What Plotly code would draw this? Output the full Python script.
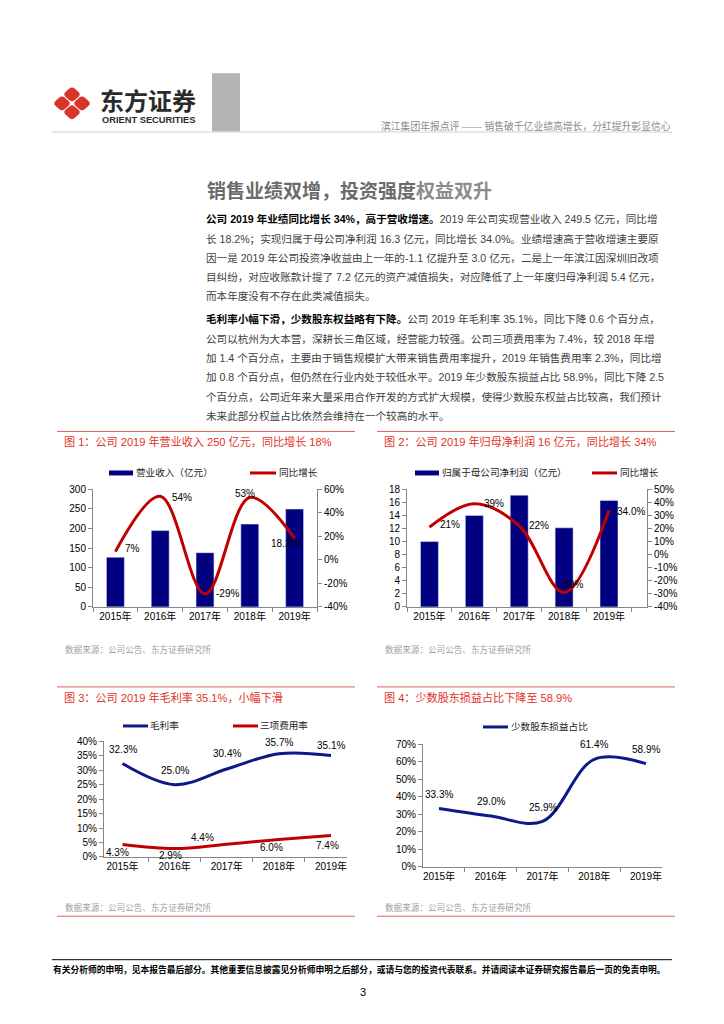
import plotly.graph_objects as go

# ---------------- data ----------------
years = ["2015年", "2016年", "2017年", "2018年", "2019年"]

revenue = [126.6, 194.6, 138.3, 211.1, 249.5]
revenue_growth = [0.07, 0.54, -0.29, 0.53, 0.182]
revenue_growth_labels = ["7%", "54%", "-29%", "53%", "18.2%"]

net_profit = [10.0, 14.0, 17.1, 12.1, 16.3]
profit_growth = [0.21, 0.39, 0.22, -0.29, 0.34]
profit_growth_labels = ["21%", "39%", "22%", "-29%", "34.0%"]

gross_margin = [0.323, 0.250, 0.304, 0.357, 0.351]
gross_margin_labels = ["32.3%", "25.0%", "30.4%", "35.7%", "35.1%"]
expense_ratio = [0.043, 0.029, 0.044, 0.060, 0.074]
expense_ratio_labels = ["4.3%", "2.9%", "4.4%", "6.0%", "7.4%"]

minority_share = [0.333, 0.290, 0.259, 0.614, 0.589]
minority_share_labels = ["33.3%", "29.0%", "25.9%", "61.4%", "58.9%"]

rev_ticks = [0, 50, 100, 150, 200, 250, 300]
rev_growth_ticks = [-0.4, -0.2, 0.0, 0.2, 0.4, 0.6]
rev_growth_ticktext = ["-40%", "-20%", "0%", "20%", "40%", "60%"]
profit_ticks = [0, 2, 4, 6, 8, 10, 12, 14, 16, 18]
profit_growth_ticks = [-0.4, -0.3, -0.2, -0.1, 0.0, 0.1, 0.2, 0.3, 0.4, 0.5]
profit_growth_ticktext = ["-40%", "-30%", "-20%", "-10%", "0%", "10%", "20%", "30%", "40%", "50%"]
margin_ticks = [0, 0.05, 0.10, 0.15, 0.20, 0.25, 0.30, 0.35, 0.40]
margin_ticktext = ["0%", "5%", "10%", "15%", "20%", "25%", "30%", "35%", "40%"]
minority_ticks = [0, 0.1, 0.2, 0.3, 0.4, 0.5, 0.6, 0.7]
minority_ticktext = ["0%", "10%", "20%", "30%", "40%", "50%", "60%", "70%"]

# ---------------- text ----------------
header_text = "滨江集团年报点评 —— 销售破千亿业绩高增长，分红提升彰显信心"
section_title_a = "销售业绩双增，投资强度"
section_title_b = "权益双升"
para1 = [
    "<b>公司 2019 年业绩同比增长 34%，高于营收增速。</b>2019 年公司实现营业收入 249.5 亿元，同比增",
    "长 18.2%；实现归属于母公司净利润 16.3 亿元，同比增长 34.0%。业绩增速高于营收增速主要原",
    "因一是 2019 年公司投资净收益由上一年的-1.1 亿提升至 3.0 亿元，二是上一年滨江因深圳旧改项",
    "目纠纷，对应收账款计提了 7.2 亿元的资产减值损失，对应降低了上一年度归母净利润 5.4 亿元，",
    "而本年度没有不存在此类减值损失。",
]
para2 = [
    "<b>毛利率小幅下滑，少数股东权益略有下降。</b>公司 2019 年毛利率 35.1%，同比下降 0.6 个百分点，",
    "公司以杭州为大本营，深耕长三角区域，经营能力较强。公司三项费用率为 7.4%，较 2018 年增",
    "加 1.4 个百分点，主要由于销售规模扩大带来销售费用率提升，2019 年销售费用率 2.3%，同比增",
    "加 0.8 个百分点，但仍然在行业内处于较低水平。2019 年少数股东损益占比 58.9%，同比下降 2.5",
    "个百分点，公司近年来大量采用合作开发的方式扩大规模，使得少数股东权益占比较高，我们预计",
    "未来此部分权益占比依然会维持在一个较高的水平。",
]
fig_titles = [
    "图 1：公司 2019 年营业收入 250 亿元，同比增长 18%",
    "图 2：公司 2019 年归母净利润 16 亿元，同比增长 34%",
    "图 3：公司 2019 年毛利率 35.1%，小幅下滑",
    "图 4：少数股东损益占比下降至 58.9%",
]
source_text = "数据来源：公司公告、东方证券研究所"
footer_text = ("有关分析师的申明，见本报告最后部分。其他重要信息披露见分析师申明之后部分，"
               "或请与您的投资代表联系。并请阅读本证券研究报告最后一页的免责申明。")

# ---------------- style ----------------
W, H = 724, 1024
FONT = "Liberation Sans, Arial, Noto Sans CJK SC, sans-serif"
BAR = "#000080"
RED_LINE = "#C00000"
BLUE_LINE = "#0C1A86"
TITLE_RED = "#E0322A"
AXIS = "#868686"


def X(p):
    return p / W


def Y(p):
    return 1 - p / H


annotations = []
shapes = []


def text(x, y, s, size, color="#333", anchor="left", family=FONT):
    annotations.append(dict(
        x=X(x), y=Y(y), xref="paper", yref="paper", text=s, showarrow=False,
        xanchor=anchor, yanchor="middle", align=anchor if anchor != "center" else "center",
        font=dict(family=family, size=size, color=color), borderpad=0))


def hline(x0, x1, y, color, width=1):
    shapes.append(dict(type="line", xref="paper", yref="paper", x0=X(x0), x1=X(x1),
                       y0=Y(y), y1=Y(y), line=dict(color=color, width=width)))


def rect(x0, x1, y0, y1, color):
    shapes.append(dict(type="rect", xref="paper", yref="paper", x0=X(x0), x1=X(x1),
                       y0=Y(y1), y1=Y(y0), fillcolor=color, line=dict(width=0)))


def rounded_diamond(cx, cy, rx, ry, t=0.3):
    v = [(cx, cy - ry), (cx + rx, cy), (cx, cy + ry), (cx - rx, cy)]

    def lerp(a, b, f):
        return (a[0] + (b[0] - a[0]) * f, a[1] + (b[1] - a[1]) * f)
    pts = []
    for i in range(4):
        prev_v, cur, nxt = v[i - 1], v[i], v[(i + 1) % 4]
        pts.append((lerp(cur, prev_v, t), cur, lerp(cur, nxt, t)))
    fmt = lambda p: f"{X(p[0]):.5f},{Y(p[1]):.5f}"
    d = "M " + fmt(pts[0][2])
    for i in list(range(1, 4)) + [0]:
        b, c, a = pts[i]
        d += " L " + fmt(b) + " Q " + fmt(c) + " " + fmt(a)
    d += " Z"
    shapes.append(dict(type="path", xref="paper", yref="paper", path=d,
                       fillcolor="#D9342B", line=dict(width=0)))


# ---------------- header ----------------
for cx, cy in [(72, 89.5), (72, 107.5), (62, 98.5), (82, 98.5)]:
    rounded_diamond(cx, cy, 9.2, 8.3, 0.32)
text(99, 95, "<b>东方证券</b>", 24, "#2b2b2b", family="Noto Sans CJK SC, sans-serif")
text(101, 115, "<b>ORIENT SECURITIES</b>", 9.3, "#2b2b2b")
rect(212, 240, 68, 127, "#B4B4B4")
text(672, 121, header_text, 9.8, "#8a8a8a", anchor="right")
hline(52, 672, 127.5, "#d0d0d0", 1)

# ---------------- section title and paragraphs ----------------
text(206, 187, f"<b>{section_title_a}<span style='color:#8c8c8c'>{section_title_b}</span></b>",
     19, "#6b6b6b")
for i, line in enumerate(para1):
    text(205, 216 + 19.4 * i, line.replace("<b>", "<b style='color:#000'>"), 10.6, "#404040")
for i, line in enumerate(para2):
    text(205, 317 + 19.6 * i, line.replace("<b>", "<b style='color:#000'>"), 10.6, "#404040")

# ---------------- chart frames ----------------
hline(57, 355, 430.5, "#E06666", 1)
hline(377, 675, 430.5, "#E06666", 1)
hline(57, 355, 689, "#E06666", 1)
hline(377, 675, 689, "#E06666", 1)
hline(57, 355, 921, "#E06666", 1)
hline(377, 675, 921, "#E06666", 1)
text(63, 441, fig_titles[0], 11.1, TITLE_RED)
text(383, 441, fig_titles[1], 11.1, TITLE_RED)
text(63, 700, fig_titles[2], 11.1, TITLE_RED)
text(383, 700, fig_titles[3], 11.1, TITLE_RED)
for sx, sy in [(64, 651), (384, 651), (64, 912), (384, 912)]:
    text(sx, sy, source_text, 8.6, "#a0a0a0")

# ---------------- legends (manual) ----------------
LEG = 9.6
rect(109, 133, 470, 475, BAR)
text(135, 472.5, "营业收入（亿元）", LEG, "#222")
hline(250, 276, 472.5, RED_LINE, 3)
text(278, 472.5, "同比增长", LEG, "#222")

rect(415, 439, 470, 475, BAR)
text(441, 472.5, "归属于母公司净利润（亿元）", LEG, "#222")
hline(592, 617, 472.5, RED_LINE, 3)
text(619, 472.5, "同比增长", LEG, "#222")

hline(123, 148, 728.5, BLUE_LINE, 3)
text(149, 728.5, "毛利率", LEG, "#222")
hline(233, 258, 728.5, RED_LINE, 3)
text(259, 728.5, "三项费用率", LEG, "#222")

hline(483, 508, 729.5, BLUE_LINE, 3)
text(510, 729.5, "少数股东损益占比", LEG, "#222")

# ---------------- footer ----------------
hline(52, 672, 965, "#000000", 1)
text(52, 975, f"<b>{footer_text}</b>", 8.75, "#000")
text(363, 997.5, "3", 11, "#000", anchor="center")

# ---------------- traces ----------------
fig = go.Figure()
fig.add_trace(go.Bar(x=years, y=revenue, marker_color=BAR, xaxis="x", yaxis="y",
                     name="营业收入（亿元）"))
fig.add_trace(go.Scatter(x=years, y=revenue_growth, mode="lines", xaxis="x", yaxis="y2",
                         line=dict(color=RED_LINE, width=3, shape="spline", smoothing=1.0),
                         name="同比增长"))
fig.add_trace(go.Bar(x=years, y=net_profit, marker_color=BAR, xaxis="x2", yaxis="y3",
                     name="归属于母公司净利润（亿元）"))
fig.add_trace(go.Scatter(x=years, y=profit_growth, mode="lines", xaxis="x2", yaxis="y4",
                         line=dict(color=RED_LINE, width=3, shape="spline", smoothing=1.0),
                         name="同比增长"))
fig.add_trace(go.Scatter(x=years, y=gross_margin, mode="lines", xaxis="x3", yaxis="y5",
                         line=dict(color=BLUE_LINE, width=3, shape="spline", smoothing=1.0),
                         name="毛利率"))
fig.add_trace(go.Scatter(x=years, y=expense_ratio, mode="lines", xaxis="x3", yaxis="y5",
                         line=dict(color=RED_LINE, width=3, shape="spline", smoothing=1.0),
                         name="三项费用率"))
fig.add_trace(go.Scatter(x=years, y=minority_share, mode="lines", xaxis="x4", yaxis="y6",
                         line=dict(color=BLUE_LINE, width=3, shape="spline", smoothing=1.0),
                         name="少数股东损益占比"))

# ---------------- data labels ----------------
LBL = 10


def add_labels(xs, ys, labels, offsets, xref, yref):
    for xv, yv, lb, (dx, dy) in zip(xs, ys, labels, offsets):
        annotations.append(dict(x=xv, y=yv, xref=xref, yref=yref, text=lb, showarrow=False,
                                xshift=dx, yshift=dy, xanchor="center", yanchor="middle",
                                font=dict(family=FONT, size=LBL, color="#000")))


add_labels(years, revenue_growth, revenue_growth_labels,
           [(17, 3), (22, -1), (22, 0), (-5, 4), (-10, -5)], "x", "y2")
add_labels(years, profit_growth, profit_growth_labels,
           [(21, 3), (20, 0), (20, 0), (7, 8), (22, -1)], "x2", "y4")
add_labels(years, gross_margin, gross_margin_labels,
           [(0, 14), (0, 14), (0, 16), (0, 11), (0, 10)], "x3", "y5")
add_labels(years, expense_ratio, expense_ratio_labels,
           [(-5, -8), (-4, -7), (-24, 7), (-7, -8), (-4, -10)], "x3", "y5")
add_labels(years, minority_share, minority_share_labels,
           [(0, 14), (0, 15), (0, 14), (0, 15), (0, 14)], "x4", "y6")

# ---------------- axes ----------------
common = dict(showline=True, linecolor=AXIS, linewidth=1, ticks="outside", ticklen=4,
              tickcolor=AXIS, showgrid=False, zeroline=False, fixedrange=True,
              tickfont=dict(family=FONT, size=10, color="#000"))


def xax(x0, x1, anchor):
    return dict(common, domain=[X(x0), X(x1)], anchor=anchor, type="category",
                tickson="boundaries", categoryorder="array", categoryarray=years)


def yax(y_top, y_bot, anchor, rng, vals, txt=None):
    d = dict(common, domain=[Y(y_bot), Y(y_top)], anchor=anchor, range=rng,
             tickmode="array", tickvals=vals)
    if txt is not None:
        d["ticktext"] = txt
    return d


layout_axes = dict(
    xaxis=xax(93, 317, "y"),
    yaxis=yax(489, 608, "x", [0, 300], rev_ticks),
    yaxis2=dict(common, overlaying="y", side="right", anchor="x", range=[-0.4, 0.6],
                tickmode="array", tickvals=rev_growth_ticks, ticktext=rev_growth_ticktext),
    xaxis2=xax(407, 647, "y3"),
    yaxis3=yax(489, 608, "x2", [0, 18], profit_ticks),
    yaxis4=dict(common, overlaying="y3", side="right", anchor="x2", range=[-0.4, 0.5],
                tickmode="array", tickvals=profit_growth_ticks, ticktext=profit_growth_ticktext),
    xaxis3=xax(104, 347, "y5"),
    yaxis5=yax(744, 861, "x3", [0, 0.4], margin_ticks, margin_ticktext),
    xaxis4=xax(423, 662, "y6"),
    yaxis6=yax(747, 871, "x4", [0, 0.7], minority_ticks, minority_ticktext),
)

fig.update_layout(
    width=W, height=H, margin=dict(l=0, r=0, t=0, b=0, pad=0),
    paper_bgcolor="white", plot_bgcolor="rgba(0,0,0,0)",
    showlegend=False, bargap=0.6, hovermode=False,
    font=dict(family=FONT, size=10, color="#000"),
    annotations=annotations, shapes=shapes,
    **layout_axes,
)

fig.write_html(
    "out.html",
    config={"displayModeBar": False, "staticPlot": True},
    post_script="document.body.style.margin='0';document.body.style.padding='0';"
                "document.body.style.overflow='hidden';",
)
